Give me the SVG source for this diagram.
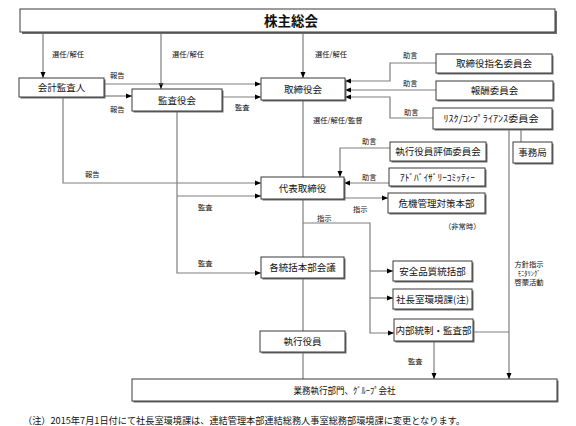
<svg xmlns="http://www.w3.org/2000/svg" width="576" height="426" viewBox="0 0 576 426">
<defs>
<style>
text{font-family:"Noto Sans CJK JP","Noto Sans CJK SC",sans-serif;fill:#111}
.sh{fill:#6e6e6e}
.bx{fill:#fff;stroke:#3a3a3a;stroke-width:1}
.t{font-size:9.5px;text-anchor:middle}
.l{font-size:7.3px}
.c{fill:none;stroke:#7f7f7f;stroke-width:1.2}
.a{marker-end:url(#ah)}
</style>
<marker id="ah" viewBox="0 0 6 6" markerWidth="6" markerHeight="6" refX="6" refY="3" orient="auto" markerUnits="userSpaceOnUse"><path d="M0,0.5 L6,3 L0,5.5 z" fill="#000"/></marker>
</defs>
<rect width="576" height="426" fill="#fff"/>

<g id="connectors">
<path class="c a" d="M43,33 V78"/>
<path class="c a" d="M161,33 V89"/>
<path class="c a" d="M303,33 V78"/>
<path class="c a" d="M104,84 H261"/>
<path class="c a" d="M104,96 H132"/>
<path class="c a" d="M222,97 H261"/>
<path class="c a" d="M436,63 H390 V81 H345"/>
<path class="c a" d="M436,90 H345"/>
<path class="c a" d="M433,118 H390 V97 H345"/>
<path class="c a" d="M509,129 V379"/>
<path class="c" d="M521,129 V142"/>
<path class="c a" d="M390,148 H340 V177"/>
<path class="c a" d="M389,183 H344"/>
<path class="c a" d="M344,198 H388"/>
<path class="c" d="M303,100 V177 M303,199 V257 M303,278 V331 M303,352 V379"/>
<path class="c a" d="M303,223 H370 V333 H394"/>
<path class="c a" d="M370,271 H393"/>
<path class="c a" d="M370,298 H393"/>
<path class="c a" d="M63,97 V183 H261"/>
<path class="c a" d="M177,111 V273 H261"/>
<path class="c a" d="M177,196 H261"/>
<path class="c" d="M473,332 H509"/>
<path class="c a" d="M434,341 V379"/>
</g>

<g id="labels">
<text class="l" x="52" y="57">選任/解任</text>
<text class="l" x="172" y="57">選任/解任</text>
<text class="l" x="315" y="57">選任/解任</text>
<text class="l" x="110" y="78">報告</text>
<text class="l" x="110" y="112">報告</text>
<text class="l" x="235" y="110">監査</text>
<text class="l" x="403" y="58">助言</text>
<text class="l" x="403" y="86">助言</text>
<text class="l" x="404" y="115">助言</text>
<text class="l" x="313" y="123">選任/解任/監督</text>
<text class="l" x="362" y="144">助言</text>
<text class="l" x="362" y="180">助言</text>
<text class="l" x="353" y="212">指示</text>
<text class="l" x="444" y="229">（非常時）</text>
<text class="l" x="85" y="177">報告</text>
<text class="l" x="198" y="210">監査</text>
<text class="l" x="198" y="266">監査</text>
<text class="l" x="317" y="221">指示</text>
<text class="l" x="529" y="267" text-anchor="middle">方針指示</text>
<text class="l" x="529" y="276" text-anchor="middle" style="font-size:6.5px">ﾓﾆﾀﾘﾝｸﾞ</text>
<text class="l" x="529" y="285" text-anchor="middle">啓蒙活動</text>
<text class="l" x="408" y="364">監査</text>
</g>

<g id="n-shareholders">
<rect class="sh" x="22" y="11" width="535" height="23"/>
<rect class="bx" x="20" y="9" width="535" height="23"/>
<text x="291" y="25.5" style="font-size:13.5px;font-weight:bold;text-anchor:middle">株主総会</text>
</g>
<g id="n-auditor">
<rect class="sh" x="20.5" y="79.5" width="85" height="19"/>
<rect class="bx" x="19" y="78" width="85" height="19"/>
<text class="t" x="61.5" y="91">会計監査人</text>
</g>
<g id="n-kansayakukai">
<rect class="sh" x="133.5" y="90.5" width="90" height="22"/>
<rect class="bx" x="132" y="89" width="90" height="22"/>
<text class="t" x="177" y="103.5">監査役会</text>
</g>
<g id="n-board">
<rect class="sh" x="262.5" y="79.5" width="84" height="22"/>
<rect class="bx" x="261" y="78" width="84" height="22"/>
<text class="t" x="303" y="92.5">取締役会</text>
</g>
<g id="n-nominating">
<rect class="sh" x="437.5" y="55.5" width="116" height="19"/>
<rect class="bx" x="436" y="54" width="116" height="19"/>
<text class="t" x="494" y="67">取締役指名委員会</text>
</g>
<g id="n-compensation">
<rect class="sh" x="437.5" y="82.5" width="117" height="19"/>
<rect class="bx" x="436" y="81" width="117" height="19"/>
<text class="t" x="494.5" y="94">報酬委員会</text>
</g>
<g id="n-risk">
<rect class="sh" x="434.5" y="109.5" width="119" height="21"/>
<rect class="bx" x="433" y="108" width="119" height="21"/>
<text class="t" x="491" y="122" textLength="95" lengthAdjust="spacingAndGlyphs">ﾘｽｸ/ｺﾝﾌﾟﾗｲｱﾝｽ委員会</text>
</g>
<g id="n-jimukyoku">
<rect class="sh" x="514.5" y="143.5" width="39" height="21"/>
<rect class="bx" x="513" y="142" width="39" height="21"/>
<text class="t" x="532.5" y="156">事務局</text>
</g>
<g id="n-evaluation">
<rect class="sh" x="391.5" y="143.5" width="96" height="19"/>
<rect class="bx" x="390" y="142" width="96" height="19"/>
<text class="t" x="438" y="155">執行役員評価委員会</text>
</g>
<g id="n-president">
<rect class="sh" x="262.5" y="178.5" width="83" height="22"/>
<rect class="bx" x="261" y="177" width="83" height="22"/>
<text class="t" x="302.5" y="191.5">代表取締役</text>
</g>
<g id="n-advisory">
<rect class="sh" x="390.5" y="169.5" width="96" height="18"/>
<rect class="bx" x="389" y="168" width="96" height="18"/>
<text class="t" x="437.5" y="180.5" textLength="75" lengthAdjust="spacingAndGlyphs">ｱﾄﾞﾊﾞｲｻﾞﾘｰｺﾐｯﾃｨｰ</text>
</g>
<g id="n-crisis">
<rect class="sh" x="389.5" y="194.5" width="97" height="20"/>
<rect class="bx" x="388" y="193" width="97" height="20"/>
<text class="t" x="436.5" y="206.5">危機管理対策本部</text>
</g>
<g id="n-divisions">
<rect class="sh" x="262.5" y="258.5" width="83" height="21"/>
<rect class="bx" x="261" y="257" width="83" height="21"/>
<text class="t" x="302.5" y="271">各統括本部会議</text>
</g>
<g id="n-safety">
<rect class="sh" x="394.5" y="262.5" width="79" height="20"/>
<rect class="bx" x="393" y="261" width="79" height="20"/>
<text class="t" x="432.5" y="274.5">安全品質統括部</text>
</g>
<g id="n-environment">
<rect class="sh" x="394.5" y="290.5" width="79" height="20"/>
<rect class="bx" x="393" y="289" width="79" height="20"/>
<text class="t" x="432.5" y="302.5">社長室環境課(注)</text>
</g>
<g id="n-internal">
<rect class="sh" x="395.5" y="320.5" width="79" height="22"/>
<rect class="bx" x="394" y="319" width="79" height="22"/>
<text class="t" x="433.5" y="333.5">内部統制・監査部</text>
</g>
<g id="n-officers">
<rect class="sh" x="261.5" y="332.5" width="85" height="21"/>
<rect class="bx" x="260" y="331" width="85" height="21"/>
<text class="t" x="302.5" y="345">執行役員</text>
</g>
<g id="n-operations">
<rect class="sh" x="133.5" y="380.5" width="425" height="22"/>
<rect class="bx" x="132" y="379" width="425" height="22"/>
<text class="t" x="344.5" y="393.5" textLength="102" lengthAdjust="spacingAndGlyphs">業務執行部門、ｸﾞﾙｰﾌﾟ会社</text>
</g>

<text x="23" y="423.5" style="font-size:9.2px" textLength="442" lengthAdjust="spacingAndGlyphs">（注）2015年7月1日付にて社長室環境課は、連結管理本部連結総務人事室総務部環境課に変更となります。</text>
</svg>
